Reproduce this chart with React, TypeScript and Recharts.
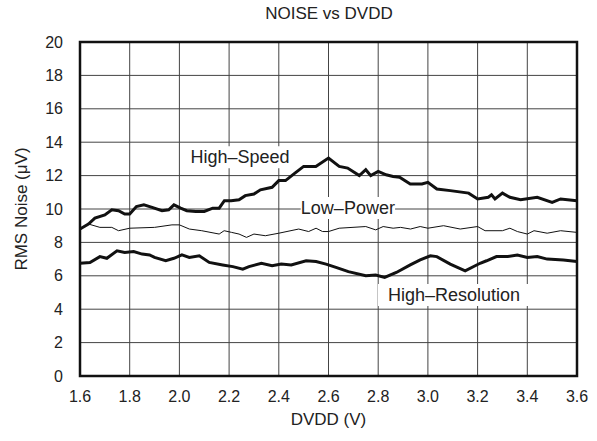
import {
  CartesianGrid,
  Line,
  LineChart,
  ReferenceArea,
  ReferenceDot,
  XAxis,
  YAxis,
} from 'recharts'

const xTicks = [1.6, 1.8, 2.0, 2.2, 2.4, 2.6, 2.8, 3.0, 3.2, 3.4, 3.6]
const yTicks = [0, 2, 4, 6, 8, 10, 12, 14, 16, 18, 20]

const speedX = [
  1.6, 1.634, 1.66, 1.7, 1.728, 1.755, 1.78, 1.8, 1.827, 1.857, 1.89, 1.93, 1.957, 1.978, 2.005,
  2.03, 2.066, 2.1, 2.134, 2.16, 2.181, 2.208, 2.24, 2.265, 2.3, 2.326, 2.373, 2.4, 2.427, 2.461,
  2.5, 2.549, 2.6, 2.643, 2.677, 2.724, 2.75, 2.77, 2.8, 2.832, 2.86, 2.886, 2.929, 2.976, 3.0,
  3.036, 3.09, 3.164, 3.2, 3.243, 3.256, 3.27, 3.3, 3.33, 3.373, 3.44, 3.5, 3.534, 3.6,
]
const speedY = [
  8.8, 9.1, 9.45, 9.65, 9.95, 9.9, 9.7, 9.7, 10.15, 10.25, 10.1, 9.9, 9.95, 10.25, 10.05,
  9.9, 9.85, 9.85, 10.05, 10.05, 10.5, 10.5, 10.55, 10.8, 10.9, 11.15, 11.3, 11.7, 11.7, 12.1,
  12.55, 12.55, 13.05, 12.55, 12.45, 12.0, 12.35, 12.0, 12.25, 12.05, 11.95, 11.9, 11.5, 11.5, 11.6,
  11.2, 11.1, 10.95, 10.6, 10.7, 10.85, 10.6, 10.95, 10.7, 10.55, 10.7, 10.4, 10.6, 10.5,
]

const powerX = [
  1.6, 1.634, 1.68, 1.728, 1.755, 1.8, 1.9, 1.97, 2.0, 2.04, 2.09, 2.16, 2.18, 2.21, 2.24, 2.27,
  2.3, 2.346, 2.4, 2.48, 2.52, 2.55, 2.576, 2.6, 2.643, 2.75, 2.79, 2.82, 2.86, 2.89, 2.93, 2.969,
  3.0, 3.063, 3.13, 3.2, 3.23, 3.3, 3.33, 3.36, 3.4, 3.427, 3.48, 3.534, 3.6,
]
const powerY = [
  8.8, 9.1, 8.9, 8.9, 8.7, 8.85, 8.9, 9.05, 9.05, 8.8, 8.7, 8.5, 8.7, 8.6, 8.5, 8.3,
  8.5, 8.4, 8.55, 8.8, 8.65, 8.85, 8.65, 8.65, 8.85, 8.95, 8.75, 8.95, 8.85, 8.9, 8.8, 8.95,
  8.85, 9.0, 8.8, 8.95, 8.7, 8.7, 8.85, 8.65, 8.5, 8.7, 8.55, 8.7, 8.6,
]

const resX = [
  1.6, 1.64, 1.68, 1.708, 1.749, 1.78, 1.816, 1.85, 1.88, 1.9, 1.945, 1.978, 2.01, 2.04, 2.08,
  2.12, 2.174, 2.215, 2.255, 2.28, 2.33, 2.373, 2.41, 2.45, 2.51, 2.55, 2.59, 2.63, 2.68, 2.75,
  2.79, 2.826, 2.873, 2.929, 2.969, 3.01, 3.036, 3.09, 3.15, 3.21, 3.236, 3.276, 3.32, 3.36, 3.4,
  3.44, 3.48, 3.545, 3.6,
]
const resY = [
  6.75, 6.8, 7.15, 7.05, 7.5, 7.4, 7.45, 7.3, 7.25, 7.1, 6.9, 7.05, 7.25, 7.1, 7.2,
  6.8, 6.65, 6.55, 6.4, 6.55, 6.75, 6.6, 6.7, 6.65, 6.9, 6.85, 6.7, 6.5, 6.25, 6.0,
  6.05, 5.9, 6.2, 6.65, 6.95, 7.2, 7.15, 6.7, 6.3, 6.75, 6.9, 7.15, 7.15, 7.25, 7.1,
  7.15, 7.0, 6.95, 6.85,
]

const toPoints = (xs: number[], ys: number[]) => xs.map((x, i) => ({ x, y: ys[i] }))

const speedData = toPoints(speedX, speedY)
const powerData = toPoints(powerX, powerY)
const resData = toPoints(resX, resY)

const FONT = 'Liberation Sans, Arial, Helvetica, sans-serif'

const seriesLabels = [
  { text: 'High\u2013Speed', x: 2.244, y: 13.1 },
  { text: 'Low\u2013Power', x: 2.678, y: 10.06 },
  { text: 'High\u2013Resolution', x: 3.105, y: 4.85 },
]

function LabelBox(props: any) {
  const { cx, cy, text } = props
  const w = text.length * 9.6 + 8
  return (
    <g>
      <rect x={cx - w / 2} y={cy - 11} width={w} height={22} fill='#ffffff' />
      <text
        x={cx}
        y={cy}
        textAnchor='middle'
        dominantBaseline='central'
        fontSize={18}
        fontFamily={FONT}
        fill='#222'
      >
        {text}
      </text>
    </g>
  )
}

export default function App() {
  return (
    <div style={{ position: 'absolute', left: 0, top: 0, background: '#fff' }}>
      <LineChart
        width={597}
        height={441}
        margin={{ top: 42, right: 20, bottom: 35, left: 40 }}
      >
        <text
          x={329}
          y={13}
          textAnchor='middle'
          dominantBaseline='central'
          fontSize={17}
          fontFamily={FONT}
          fill='#222'
        >
          NOISE vs DVDD
        </text>
        <CartesianGrid stroke='#444' strokeWidth={1} />
        <XAxis
          dataKey='x'
          type='number'
          domain={[1.6, 3.6]}
          ticks={xTicks}
          tickFormatter={(v) => v.toFixed(1)}
          axisLine={false}
          tickLine={false}
          tickSize={6}
          tickMargin={9}
          height={30}
          allowDuplicatedCategory={false}
          tick={{ fontSize: 16, fontFamily: FONT, fill: '#222' }}
          label={{
            value: 'DVDD (V)',
            position: 'insideBottom',
            offset: -19,
            fontSize: 17,
            fontFamily: FONT,
            fill: '#222',
          }}
        />
        <YAxis
          type='number'
          domain={[0, 20]}
          ticks={yTicks}
          axisLine={false}
          tickLine={false}
          tickSize={6}
          tickMargin={11}
          width={40}
          tick={{ fontSize: 16, fontFamily: FONT, fill: '#222' }}
          label={{
            value: 'RMS Noise (\u03bcV)',
            angle: -90,
            position: 'insideLeft',
            offset: -19,
            style: { textAnchor: 'middle' },
            fontSize: 17,
            fontFamily: FONT,
            fill: '#222',
          }}
        />
        <ReferenceArea
          x1={1.6}
          x2={3.6}
          y1={0}
          y2={20}
          fill='none'
          stroke='#111'
          strokeWidth={2.5}
          ifOverflow='visible'
        />
        <Line
          data={powerData}
          dataKey='y'
          stroke='#111'
          strokeWidth={1}
          dot={false}
          isAnimationActive={false}
        />
        <Line
          data={speedData}
          dataKey='y'
          stroke='#111'
          strokeWidth={3}
          dot={false}
          isAnimationActive={false}
        />
        <Line
          data={resData}
          dataKey='y'
          stroke='#111'
          strokeWidth={3}
          dot={false}
          isAnimationActive={false}
        />
        {seriesLabels.map((l) => (
          <ReferenceDot
            key={l.text}
            x={l.x}
            y={l.y}
            r={0}
            ifOverflow='visible'
            shape={(p: any) => <LabelBox {...p} text={l.text} />}
          />
        ))}
      </LineChart>
    </div>
  )
}
